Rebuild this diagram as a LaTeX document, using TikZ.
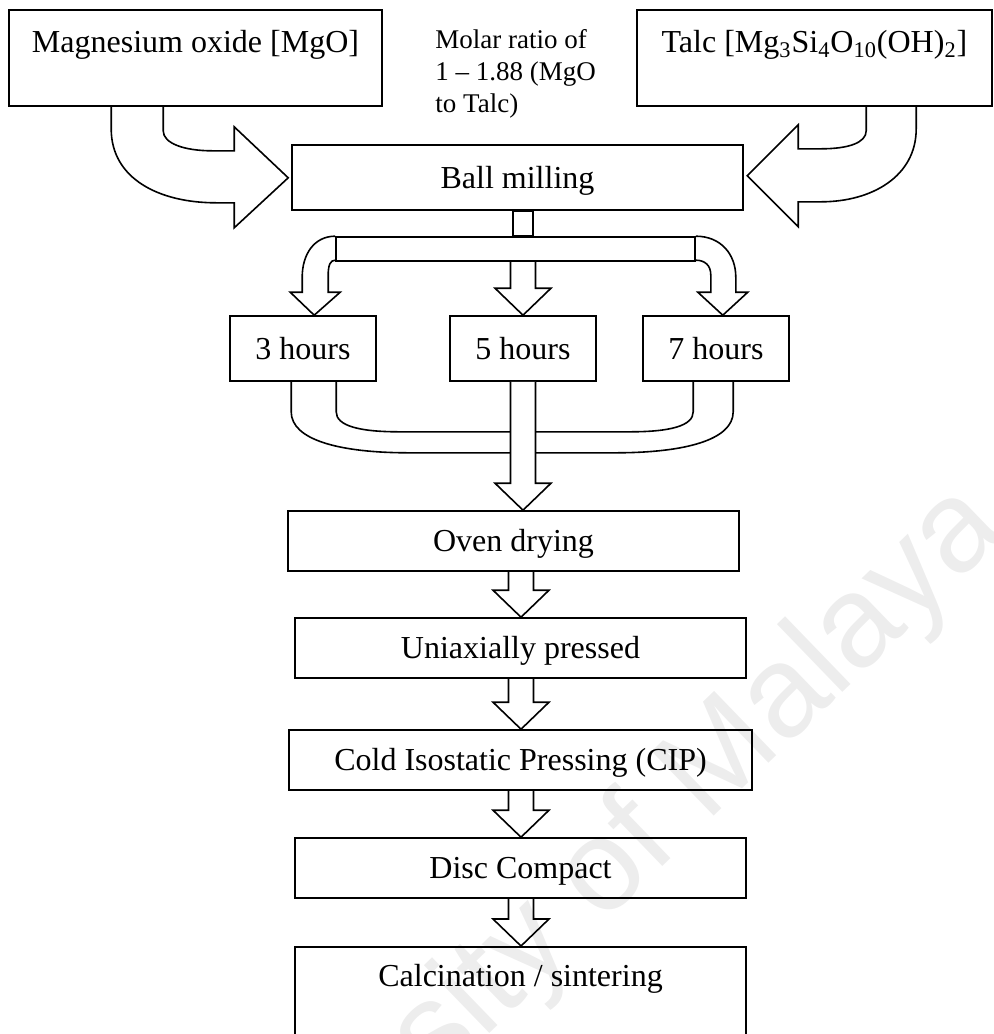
\documentclass[tikz,border=0pt]{standalone}
\usepackage{fontspec}
\setmainfont{Liberation Serif}
\newfontfamily\wmfont{Liberation Sans}
\usetikzlibrary{calc}
\definecolor{wmgray}{gray}{0.93}

\tikzset{
  box/.style={draw, line width=0.8pt, inner sep=0pt, align=center,
    font=\fontsize{16}{19}\selectfont, text height=12.8pt, text depth=2pt},
  fat/.style={draw, line width=0.8pt, line join=miter},
  downarrow/.style={to path={let \p1=(\tikztostart), \p2=(\tikztotarget) in
    (\x1-6.25pt,\y1) |- (\x1-14pt,\y2+13.5pt) -- (\x1,\y2)
    -- (\x1+14pt,\y2+13.5pt) -| (\x1+6.25pt,\y1)}},
}

\begin{document}
\begin{tikzpicture}[x=0.5pt,y=-0.5pt]
  \useasboundingbox (0,0) rectangle (993,1034);
  \clip (0,0) rectangle (993,1034);

  % watermark
  \node[wmgray, font=\wmfont\fontsize{65}{65}\selectfont, rotate=44,
        anchor=base west, inner sep=0pt] (wm) at (166,1346) {University of Malaya};

  % raw materials
  \node[box, minimum width=186.5pt, text height=21pt, text depth=27pt] (mgo) at (195.5,58)
    {Magnesium oxide [MgO]};
  \node[box, minimum width=177.5pt, text height=21pt, text depth=27pt] (talc) at (814.5,58)
    {Talc [Mg\textsubscript{3}Si\textsubscript{4}O\textsubscript{10}(OH)\textsubscript{2}]};
  \node[anchor=north west, inner sep=0pt, align=left,
        font=\fontsize{13.5}{16}\selectfont] (ratio) at (435,29)
    {Molar ratio of\\1 -- 1.88 (MgO\\to Talc)};

  % process steps
  \node[box, minimum width=225.5pt, minimum height=32.5pt] (ball) at (517.5,177.5) {Ball milling};
  \node[box, minimum width=73pt, minimum height=32.5pt] (h3) at (303,348.5) {3 hours};
  \node[box, minimum width=73pt, minimum height=32.5pt] (h5) at (523,348.5) {5 hours};
  \node[box, minimum width=73pt, minimum height=32.5pt] (h7) at (716,348.5) {7 hours};
  \node[box, minimum width=225.5pt, minimum height=30pt] (oven) at (513.5,541) {Oven drying};
  \node[box, minimum width=225.5pt, minimum height=30pt] (uni) at (520.5,648) {Uniaxially pressed};
  \node[box, minimum width=231.5pt, minimum height=30pt] (cip) at (520.5,760) {Cold Isostatic Pressing (CIP)};
  \node[box, minimum width=225.5pt, minimum height=30pt] (disc) at (520.5,868) {Disc Compact};
  \node[box, minimum width=225.5pt, text height=20pt, text depth=48.5pt, anchor=north]
    (calc) at (520.5,946) {Calcination / sintering};

  % feed arrows into the mill
  \begin{scope}[shift={(mgo.south west)}]
    \draw[fat] (103,0) -- (103,22) .. controls (103,72) and (151,96) .. (208,96)
      -- (226,96) -- (226,121) -- (280,71) -- (226,20) -- (226,44) -- (204,44)
      .. controls (177,44) and (155,37) .. (155,24) -- (155,0);
  \end{scope}
  \begin{scope}[shift={(talc.south west)}]
    \draw[fat] (280,0) -- (280,22) .. controls (280,70) and (235,95) .. (185,95)
      -- (162,95) -- (162,120) -- (111,69) -- (162,18) -- (162,42) -- (185,42)
      .. controls (212,42) and (230,36) .. (230,24) -- (230,0);
  \end{scope}

  % split into milling times
  \node[fat, inner sep=0pt, minimum width=179.5pt, minimum height=12pt] (bar) at (515.5,249) {};
  \draw[fat] ($(ball.south -| h5.north)+(-10,0)$) rectangle ($(bar.north -| h5.north)+(10,0)$);
  \begin{scope}[shift={(bar.north west)}]
    \draw[fat] (0,0) .. controls (-21,0) and (-33,18) .. (-33,41) -- (-33,56) -- (-45,56)
      -- (-21,79) -- (5,56) -- (-7,56) -- (-7,39) .. controls (-7,29) and (-5,24) .. (0,24);
  \end{scope}
  \begin{scope}[shift={(bar.north east)}]
    \draw[fat] (0,0) .. controls (25,0) and (40,18) .. (40,41) -- (40,56) -- (52,56)
      -- (27,79) -- (2,56) -- (15,56) -- (15,39) .. controls (15,29) and (9,24) .. (0,24);
  \end{scope}
  \draw[fat] (bar.south -| h5.north) to[downarrow] (h5.north);

  % merge back
  \begin{scope}[shift={(h3.south west)}]
    \draw[fat] (62,0) -- (62,30) .. controls (62,58) and (110,71) .. (180,71)
      -- (386,71) .. controls (456,71) and (504,58) .. (504,30) -- (504,0);
    \draw[fat] (107,0) -- (107,30) .. controls (107,44) and (130,50) .. (170,50)
      -- (401,50) .. controls (441,50) and (464,44) .. (464,30) -- (464,0);
  \end{scope}
  \draw[fat, fill=white] (h5.south) to[downarrow] (oven.north -| h5.south);

  % main line
  \coordinate (spine) at (521,0);
  \draw[fat] (oven.south -| spine) to[downarrow] (uni.north -| spine);
  \draw[fat] (uni.south -| spine) to[downarrow] (cip.north -| spine);
  \draw[fat] (cip.south -| spine) to[downarrow] (disc.north -| spine);
  \draw[fat] (disc.south -| spine) to[downarrow] (calc.north -| spine);
\end{tikzpicture}
\end{document}
